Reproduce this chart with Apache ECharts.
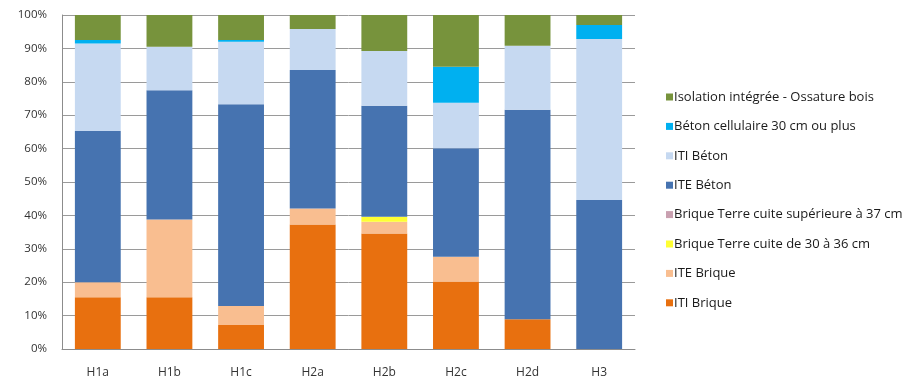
<!DOCTYPE html>
<html>
<head>
<meta charset="utf-8">
<script src="https://cdn.jsdelivr.net/npm/echarts@6/dist/echarts.min.js"></script>
<style>
  html, body { margin: 0; padding: 0; background: #fff; }
  #chart { width: 924px; height: 380px; }
</style>
</head>
<body>
<div id="chart"></div>
<script>
// categories (zones climatiques)
const categories = ["H1a", "H1b", "H1c", "H2a", "H2b", "H2c", "H2d", "H3"];

// parts en % (du bas vers le haut)
const itiBrique = [15.5, 15.5, 7.2, 37.3, 34.6, 20.2, 8.9, 0];
const iteBrique = [4.5, 23.3, 5.7, 4.8, 3.5, 7.4, 0, 0];
const brique30a36 = [0, 0, 0, 0, 1.5, 0, 0, 0];
const brique37 = [0, 0, 0, 0, 0, 0, 0, 0];
const iteBeton = [45.3, 38.7, 60.4, 41.4, 33.2, 32.5, 62.7, 44.6];
const itiBeton = [26.2, 13, 18.7, 12.3, 16.4, 13.6, 19.2, 48.2];
const betonCellulaire = [1, 0, 0.5, 0, 0, 10.8, 0, 4.2];
const ossatureBois = [7.5, 9.5, 7.5, 4.2, 10.8, 15.5, 9.2, 3];

const yTicks = [0, 10, 20, 30, 40, 50, 60, 70, 80, 90, 100];

const seriesDefs = [
  { name: "ITI Brique", data: itiBrique, color: "#E8700F" },
  { name: "ITE Brique", data: iteBrique, color: "#F9BE90" },
  { name: "Brique Terre cuite de 30 à 36 cm", data: brique30a36, color: "#FFFF33" },
  { name: "Brique Terre cuite supérieure à 37 cm", data: brique37, color: "#C9A0B0" },
  { name: "ITE Béton", data: iteBeton, color: "#4673B0" },
  { name: "ITI Béton", data: itiBeton, color: "#C6D9F1" },
  { name: "Béton cellulaire 30 cm ou plus", data: betonCellulaire, color: "#00B0F0" },
  { name: "Isolation intégrée - Ossature bois", data: ossatureBois, color: "#77933C" },
];

const chart = echarts.init(document.getElementById("chart"), null, { renderer: "canvas" });

const font = "'Open Sans', sans-serif";

const option = {
  animation: false,
  textStyle: { fontFamily: font },
  grid: { left: 62, right: 289, top: 15, bottom: 31 },
  legend: {
    orient: "vertical",
    left: 661,
    top: 85,
    itemWidth: 7,
    itemHeight: 7,
    itemGap: 15.4,
    icon: "rect",
    data: seriesDefs.map((s) => s.name).reverse(),
    textStyle: { fontFamily: font, fontSize: 13, color: "#1a1a1a", lineHeight: 14, padding: [0, 0, 0, -4] },
  },
  xAxis: {
    type: "category",
    data: categories,
    axisTick: { show: false },
    axisLine: { lineStyle: { color: "#8c8c8c" } },
    axisLabel: { color: "#333", fontSize: 12, margin: 18 },
  },
  yAxis: {
    type: "value",
    min: yTicks[0],
    max: yTicks[yTicks.length - 1],
    interval: 10,
    axisLine: { show: true, lineStyle: { color: "#8c8c8c" } },
    axisTick: { show: false },
    splitLine: { lineStyle: { color: "#9a9a9a", width: 1 } },
    axisLabel: { color: "#333", fontSize: 11.5, margin: 15, formatter: "{value}%" },
  },
  series: seriesDefs.map((s) => ({
    name: s.name,
    type: "bar",
    stack: "total",
    barWidth: "64%",
    data: s.data,
    itemStyle: { color: s.color },
  })),
};

chart.setOption(option);
</script>
</body>
</html>
